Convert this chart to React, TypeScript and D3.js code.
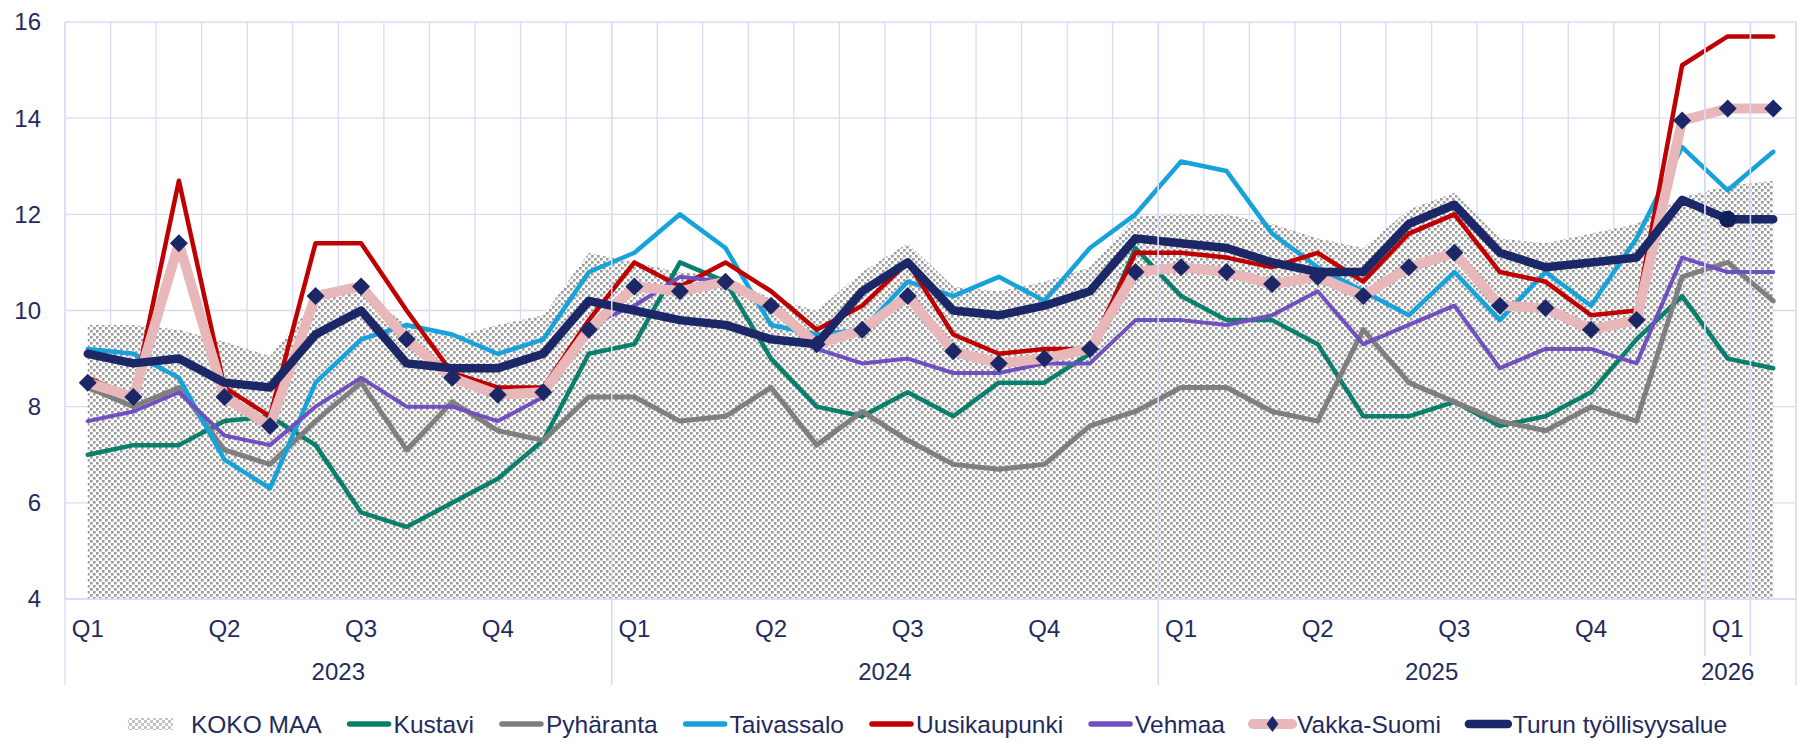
import React from "react";
import * as d3 from "d3";

// chart box
const W = 1797;
const H = 741;
const plot = { left: 65, right: 1796, top: 22, bottom: 599 };

const FONT = "'Liberation Sans', Arial, sans-serif";
const TEXT = "#1F2B5E";
const GRID = "#D6DCF4";
const LEGEND_FONT = 24.5;

// categories (monthly, Jan 2023 .. Feb 2026)
const quarterLabels = [
  "Q1", "", "", "Q2", "", "", "Q3", "", "", "Q4", "", "",
  "Q1", "", "", "Q2", "", "", "Q3", "", "", "Q4", "", "",
  "Q1", "", "", "Q2", "", "", "Q3", "", "", "Q4", "", "",
  "Q1", "",
];
const yearGroups = [
  { label: "2023", start: 0, end: 12 },
  { label: "2024", start: 12, end: 24 },
  { label: "2025", start: 24, end: 36 },
  { label: "2026", start: 36, end: 37 },
  { label: "", start: 37, end: 38 },
];
const yTicks = [4, 6, 8, 10, 12, 14, 16];

// series values
const kokoMaa = [
  9.7, 9.7, 9.6, 9.35, 9.05, 10.2, 10.4, 9.7, 9.45, 9.7, 9.9, 11.2,
  11.0, 10.8, 10.7, 10.25, 10.0, 10.8, 11.4, 10.5, 10.4, 10.6, 10.9, 11.95,
  12.0, 12.0, 11.8, 11.5, 11.3, 12.1, 12.45, 11.5, 11.4, 11.6, 11.8, 12.35,
  12.6, 12.7,
];
const kustavi = [
  7.0, 7.2, 7.2, 7.7, 7.8, 7.2, 5.8, 5.5, 6.0, 6.5, 7.3, 9.1,
  9.3, 11.0, 10.6, 9.0, 8.0, 7.8, 8.3, 7.8, 8.5, 8.5, 9.1, 11.3,
  10.3, 9.8, 9.8, 9.3, 7.8, 7.8, 8.1, 7.6, 7.8, 8.3, 9.4, 10.3,
  9.0, 8.8,
];
const pyharanta = [
  8.4, 8.0, 8.4, 7.1, 6.8, 7.7, 8.5, 7.1, 8.1, 7.5, 7.3, 8.2,
  8.2, 7.7, 7.8, 8.4, 7.2, 7.9, 7.3, 6.8, 6.7, 6.8, 7.6, 7.9,
  8.4, 8.4, 7.9, 7.7, 9.6, 8.5, 8.1, 7.7, 7.5, 8.0, 7.7, 10.7,
  11.0, 10.2,
];
const taivassalo = [
  9.2, 9.1, 8.6, 6.9, 6.3, 8.5, 9.4, 9.7, 9.5, 9.1, 9.4, 10.8,
  11.2, 12.0, 11.3, 9.7, 9.5, 9.6, 10.6, 10.3, 10.7, 10.2, 11.3, 12.0,
  13.1, 12.9, 11.6, 10.9, 10.4, 9.9, 10.8, 9.8, 10.8, 10.1, 11.5, 13.4,
  12.5, 13.3,
];
const uusikaupunki = [
  8.6, 8.2, 12.7, 8.4, 7.8, 11.4, 11.4, 10.0, 8.7, 8.4, 8.4, 9.8,
  11.0, 10.5, 11.0, 10.4, 9.6, 10.1, 11.0, 9.5, 9.1, 9.2, 9.2, 11.2,
  11.2, 11.1, 10.9, 11.2, 10.6, 11.6, 12.0, 10.8, 10.6, 9.9, 10.0, 15.1,
  15.7, 15.7,
];
const vehmaa = [
  7.7, 7.9, 8.3, 7.4, 7.2, 8.0, 8.6, 8.0, 8.0, 7.7, 8.2, 9.7,
  10.1, 10.7, 10.6, 10.1, 9.2, 8.9, 9.0, 8.7, 8.7, 8.9, 8.9, 9.8,
  9.8, 9.7, 9.9, 10.4, 9.3, 9.7, 10.1, 8.8, 9.2, 9.2, 8.9, 11.1,
  10.8, 10.8,
];
const vakkaSuomi = [
  8.5, 8.2, 11.4, 8.2, 7.6, 10.3, 10.5, 9.4, 8.6, 8.25, 8.3, 9.6,
  10.5, 10.4, 10.6, 10.1, 9.3, 9.6, 10.3, 9.15, 8.9, 9.0, 9.2, 10.8,
  10.9, 10.8, 10.55, 10.7, 10.3, 10.9, 11.2, 10.1, 10.05, 9.6, 9.8, 13.95,
  14.2, 14.2,
];
const turku = [
  9.1, 8.9, 9.0, 8.5, 8.4, 9.5, 10.0, 8.9, 8.8, 8.8, 9.1, 10.2,
  10.0, 9.8, 9.7, 9.4, 9.3, 10.4, 11.0, 10.0, 9.9, 10.1, 10.4, 11.5,
  11.4, 11.3, 11.0, 10.8, 10.8, 11.8, 12.2, 11.2, 10.9, 11.0, 11.1, 12.3,
  11.9, 11.9,
];
const turkuHighlight = 36;

type Series = {
  name: string;
  values: number[];
  color: string;
  width: number;
  diamond?: boolean;
};

const lines: Series[] = [
  { name: "Kustavi", values: kustavi, color: "#0A806C", width: 4.5 },
  { name: "Pyhäranta", values: pyharanta, color: "#7F7F7F", width: 5 },
  { name: "Taivassalo", values: taivassalo, color: "#17A2D9", width: 4.5 },
  { name: "Uusikaupunki", values: uusikaupunki, color: "#C00000", width: 4.5 },
  { name: "Vehmaa", values: vehmaa, color: "#7050BE", width: 4 },
  { name: "Vakka-Suomi", values: vakkaSuomi, color: "#E8B7BA", width: 10, diamond: true },
  { name: "Turun työllisyysalue", values: turku, color: "#1B2766", width: 8.5 },
];

function measure(label: string) {
  const ctx = document.createElement("canvas").getContext("2d");
  if (!ctx) return label.length * 12;
  ctx.font = `${LEGEND_FONT}px ${FONT}`;
  return ctx.measureText(label).width;
}

const diamondPath = "M0,-9L9,0L0,9L-9,0Z";

export default function App() {
  const x = d3
    .scaleBand<number>()
    .domain(d3.range(quarterLabels.length))
    .range([plot.left, plot.right])
    .padding(0);
  const bw = x.bandwidth();
  const cx = (i: number) => (x(i) as number) + bw / 2;
  const edge = (i: number) => plot.left + i * bw;

  const y = d3.scaleLinear().domain([4, 16]).range([plot.bottom, plot.top]);

  const area = d3
    .area<number>()
    .x((d, i) => cx(i))
    .y0(y(4))
    .y1((d) => y(d));

  const line = d3
    .line<number>()
    .x((d, i) => cx(i))
    .y((d) => y(d));

  // legend layout
  const legendNames = ["KOKO MAA"].concat(lines.map((s) => s.name));
  const swatchW = 45;
  const itemGap = 25;
  const widths = legendNames.map((n, k) => swatchW + (k === 0 ? 18 : 2) + measure(n));
  const total = d3.sum(widths) + itemGap * (widths.length - 1);
  let lx = (plot.left + plot.right) / 2 - 3 - total / 2;
  const legendY = 724;
  const legendPos = widths.map((w) => {
    const p = lx;
    lx += w + itemGap;
    return p;
  });

  return (
    <div style={{ position: "absolute", left: 0, top: 0 }}>
      <svg width={W} height={H} style={{ display: "block", background: "white" }}>
        <defs>
          <pattern id="koko" width={6} height={6} patternUnits="userSpaceOnUse">
            <rect width={6} height={6} fill="#ffffff" />
            <rect x={0} y={0} width={2.6} height={2.6} fill="#9A9A9A" />
            <rect x={3} y={3} width={2.6} height={2.6} fill="#9A9A9A" />
          </pattern>
          <pattern id="kokoLeg" width={6} height={6} patternUnits="userSpaceOnUse">
            <rect width={6} height={6} fill="#ffffff" />
            <rect x={0} y={0} width={3} height={3} fill="#C4C4C4" />
            <rect x={3} y={3} width={3} height={3} fill="#C4C4C4" />
          </pattern>
        </defs>

        {/* gridlines */}
        {yTicks.map((t) => (
          <line key={`h${t}`} x1={plot.left} x2={plot.right} y1={y(t)} y2={y(t)} stroke={GRID} strokeWidth={1.3} />
        ))}
        {d3.range(quarterLabels.length + 1).map((i) => (
          <line key={`v${i}`} x1={edge(i)} x2={edge(i)} y1={plot.top} y2={plot.bottom} stroke={GRID} strokeWidth={1.3} />
        ))}

        {/* KOKO MAA area */}
        <path d={area(kokoMaa) || ""} fill="url(#koko)" />

        {/* lines */}
        {lines.map((s) => (
          <g key={s.name}>
            <path
              d={line(s.values) || ""}
              fill="none"
              stroke={s.color}
              strokeWidth={s.width}
              strokeLinejoin="round"
              strokeLinecap="round"
            />
            {s.diamond &&
              s.values.map((v, i) => (
                <path key={i} d={diamondPath} transform={`translate(${cx(i)},${y(v)})`} fill="#1B2766" />
              ))}
          </g>
        ))}
        <circle cx={cx(turkuHighlight)} cy={y(turku[turkuHighlight])} r={8.5} fill="#0E1F5C" />

        {/* y axis labels */}
        {yTicks.map((t) => (
          <text
            key={`yl${t}`}
            x={41}
            y={y(t)}
            dy="0.35em"
            textAnchor="end"
            fontFamily={FONT}
            fontSize={24}
            fill={TEXT}
          >
            {t}
          </text>
        ))}

        {/* category axis */}
        <line x1={plot.left} x2={plot.right} y1={plot.bottom} y2={plot.bottom} stroke={GRID} strokeWidth={1.5} />
        {yearGroups.map((g) => (
          <g key={`yg${g.start}`}>
            <line x1={edge(g.start)} x2={edge(g.start)} y1={plot.top} y2={685} stroke={GRID} strokeWidth={1.3} />
            <line x1={edge(g.end)} x2={edge(g.end)} y1={plot.top} y2={685} stroke={GRID} strokeWidth={1.3} />
          </g>
        ))}
        {quarterLabels.map((q, i) =>
          q ? (
            <text key={`q${i}`} x={cx(i)} y={637} textAnchor="middle" fontFamily={FONT} fontSize={24} fill={TEXT}>
              {q}
            </text>
          ) : null
        )}
        {yearGroups.map((g) => {
          if (!g.label) return null;
          const mid = (edge(g.start) + edge(g.end)) / 2;
          const narrow = edge(g.end) - edge(g.start) < 60;
          return (
            <g key={`yt${g.start}`}>
              {narrow && <rect x={mid - 28} y={656} width={56} height={28} fill="white" />}
              <text x={mid} y={680} textAnchor="middle" fontFamily={FONT} fontSize={24} fill={TEXT}>
                {g.label}
              </text>
            </g>
          );
        })}

        {/* legend */}
        {legendNames.map((n, k) => {
          const x0 = legendPos[k];
          const s = k === 0 ? null : lines[k - 1];
          return (
            <g key={`lg${k}`}>
              {s ? (
                <line
                  x1={x0 + 3}
                  x2={x0 + swatchW - 3}
                  y1={legendY}
                  y2={legendY}
                  stroke={s.color}
                  strokeWidth={Math.max(s.width, 5.5)}
                  strokeLinecap="round"
                />
              ) : (
                <rect x={x0} y={legendY - 6} width={swatchW} height={12} fill="url(#kokoLeg)" />
              )}
              {s && s.diamond && (
                <path d={diamondPath} transform={`translate(${x0 + swatchW / 2},${legendY}) scale(0.65,0.9)`} fill="#1B2766" />
              )}
              <text
                x={x0 + swatchW + (k === 0 ? 18 : 2)}
                y={legendY}
                dy="0.35em"
                fontFamily={FONT}
                fontSize={LEGEND_FONT}
                fill={TEXT}
              >
                {n}
              </text>
            </g>
          );
        })}
      </svg>
    </div>
  );
}
